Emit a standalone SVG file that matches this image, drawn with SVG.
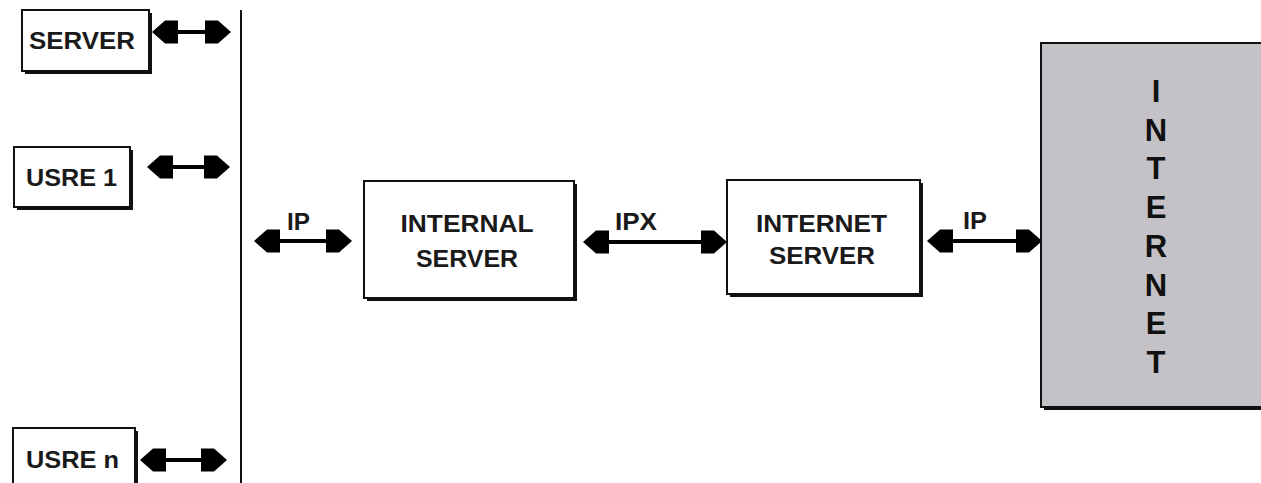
<svg xmlns="http://www.w3.org/2000/svg" width="1261" height="483" viewBox="0 0 1261 483">
  <style>
    .box{fill:#fff;stroke:#111;stroke-width:2}
    .shadow{fill:#111}
    .cloud{fill:#c4c2c6;stroke:#111;stroke-width:2}
    .lbl{font-family:"Liberation Sans",Arial,sans-serif;font-weight:bold;font-size:24px;fill:#1a1a1a;text-anchor:middle}
    .big{font-family:"Liberation Sans",Arial,sans-serif;font-weight:bold;font-size:31px;fill:#111;text-anchor:middle}
    .link{stroke:#000;stroke-width:4;fill:none;marker-start:url(#ah);marker-end:url(#ah)}
    .bus{stroke:#111;stroke-width:2}
  </style>
  <defs>
    <!-- blocky double-ended arrowhead; tip sits 10px beyond the line end -->
    <marker id="ah" markerUnits="userSpaceOnUse" viewBox="0 -12 26 24" markerWidth="26" markerHeight="24" refX="16" refY="0" orient="auto-start-reverse">
      <path d="M26,0 L13,-11.5 L0,-11.5 L0,11.5 L13,11.5 Z" fill="#000"/>
    </marker>
  </defs>

  <rect width="1261" height="483" fill="#fff"/>

  <!-- connectors -->
  <g id="connectors">
    <line class="bus" x1="241" y1="10" x2="241" y2="483"/>
    <line class="link" x1="162" y1="32" x2="221" y2="32"/>
    <line class="link" x1="157" y1="167" x2="220" y2="167"/>
    <line class="link" x1="150" y1="460" x2="217" y2="460"/>
    <line class="link" x1="264" y1="241" x2="342" y2="241"/>
    <line class="link" x1="593" y1="242" x2="717" y2="242"/>
    <line class="link" x1="937" y1="241" x2="1032" y2="241"/>
    <text class="lbl" x="298.5" y="230" textLength="23" lengthAdjust="spacingAndGlyphs">IP</text>
    <text class="lbl" x="636" y="230" textLength="42" lengthAdjust="spacingAndGlyphs">IPX</text>
    <text class="lbl" x="975" y="229" textLength="24" lengthAdjust="spacingAndGlyphs">IP</text>
  </g>

  <g id="server">
    <rect class="shadow" x="25" y="13" width="127" height="61"/>
    <rect class="box" x="22" y="10" width="127" height="61"/>
    <text class="lbl" x="82" y="49" textLength="106" lengthAdjust="spacingAndGlyphs">SERVER</text>
  </g>

  <g id="user1">
    <rect class="shadow" x="17" y="150" width="116" height="60"/>
    <rect class="box" x="14" y="147" width="116" height="60"/>
    <text class="lbl" x="71.5" y="186" textLength="91" lengthAdjust="spacingAndGlyphs">USRE 1</text>
  </g>

  <g id="usern">
    <rect class="shadow" x="16" y="431" width="122" height="70"/>
    <rect class="box" x="13" y="428" width="122" height="70"/>
    <text class="lbl" x="72.5" y="468" textLength="93" lengthAdjust="spacingAndGlyphs">USRE n</text>
  </g>

  <g id="internal-server">
    <rect class="shadow" x="367" y="184" width="210" height="117"/>
    <rect class="box" x="364" y="181" width="210" height="117"/>
    <text class="lbl" x="467" y="232" textLength="133" lengthAdjust="spacingAndGlyphs">INTERNAL</text>
    <text class="lbl" x="467" y="267" textLength="102" lengthAdjust="spacingAndGlyphs">SERVER</text>
  </g>

  <g id="internet-server">
    <rect class="shadow" x="730" y="183" width="193" height="114"/>
    <rect class="box" x="727" y="180" width="193" height="114"/>
    <text class="lbl" x="821.5" y="232" textLength="131" lengthAdjust="spacingAndGlyphs">INTERNET</text>
    <text class="lbl" x="822" y="264" textLength="106" lengthAdjust="spacingAndGlyphs">SERVER</text>
  </g>

  <g id="internet">
    <rect class="shadow" x="1044" y="46" width="240" height="364"/>
    <rect class="cloud" x="1041" y="43" width="240" height="364"/>
    <text class="big" x="1156" y="102">I</text>
    <text class="big" x="1156" y="140.7">N</text>
    <text class="big" x="1156" y="179.4">T</text>
    <text class="big" x="1156" y="218.1">E</text>
    <text class="big" x="1156" y="256.9">R</text>
    <text class="big" x="1156" y="295.6">N</text>
    <text class="big" x="1156" y="334.3">E</text>
    <text class="big" x="1156" y="373">T</text>
  </g>
</svg>
